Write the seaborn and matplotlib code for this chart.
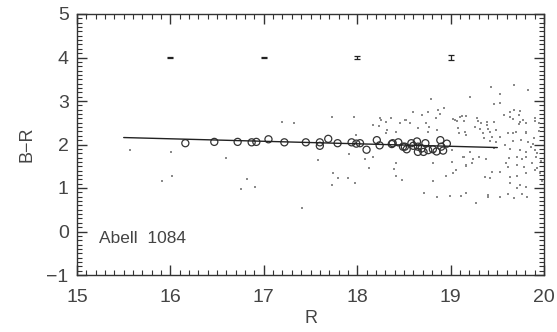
import numpy as np
import pandas as pd
import matplotlib
matplotlib.use("Agg")
import matplotlib.pyplot as plt
import seaborn as sns
from matplotlib.ticker import MultipleLocator

# ---- data ----
circ_r = [16.16, 16.47, 16.72, 16.87, 16.92, 17.05, 17.22, 17.45, 17.60, 17.60,
          17.69, 17.79, 17.94, 17.99, 18.03, 18.10, 18.21, 18.24, 18.38, 18.44,
          18.51, 18.37, 18.49, 18.53, 18.58, 18.64, 18.65, 18.69, 18.73, 18.76,
          18.81, 18.89, 18.90, 18.92, 18.65, 18.71, 18.85, 18.96, 18.60]
circ_br = [2.03, 2.06, 2.06, 2.05, 2.06, 2.12, 2.05, 2.05, 2.05, 1.97,
           2.13, 2.03, 2.05, 2.02, 2.03, 1.88, 2.10, 1.98, 2.03, 2.05,
           1.95, 2.01, 1.95, 1.89, 2.03, 2.07, 1.95, 1.91, 2.03, 1.87,
           1.89, 2.10, 1.95, 1.86, 1.83, 1.83, 1.84, 2.02, 1.97]

dot_r = [15.57, 16.01, 16.59, 15.91, 16.02, 16.82, 16.76, 16.91, 17.41,
         17.20, 17.32, 17.73, 17.97, 18.26, 18.31, 18.36, 18.46, 18.51, 18.17,
         18.32, 18.31, 17.99, 17.91, 17.58, 18.08, 18.13, 18.17, 18.42, 18.39,
         18.42, 17.74, 17.79, 17.90, 17.98, 17.73, 18.48,
         18.60, 18.69, 18.74, 18.42, 18.24, 18.52, 18.23, 18.57, 18.65, 18.76,
         18.85, 18.79, 18.93, 18.87, 18.76, 18.89, 18.84, 18.77, 18.81, 18.89,
         18.82, 18.81, 18.95, 18.81, 18.72, 18.85, 18.99,
         19.43, 19.68, 19.83, 19.21, 19.53, 19.46, 19.53, 19.64, 19.68, 19.74,
         19.12, 19.17, 19.03, 19.07, 19.14, 19.29, 19.39, 19.46, 19.33, 19.67,
         19.74, 19.81, 19.73, 19.90, 19.95, 19.26, 19.31, 19.40, 19.49, 19.61,
         19.70, 19.81, 19.09, 19.15, 19.36, 19.42, 19.49, 19.44, 19.67, 19.75,
         19.83, 19.89, 19.64, 19.74, 19.81, 19.90, 19.14, 19.24, 19.30, 19.38,
         19.63, 19.71, 19.76, 19.81, 19.91, 19.01, 19.17, 19.23, 19.59, 19.61,
         19.71, 19.79, 19.87, 19.06, 19.03, 19.44, 19.53, 19.37, 19.42, 19.64,
         19.71, 19.81, 19.90, 19.96, 19.64, 19.74, 19.71, 19.81, 19.11, 19.16,
         19.40, 19.40, 19.53, 19.61, 19.68, 19.76, 19.82, 19.27, 19.05, 19.10,
         19.28, 19.39, 19.57, 19.64, 19.73, 19.78, 19.90, 19.08, 19.17, 19.35,
         19.42, 19.53, 19.67, 19.81, 19.89, 19.01, 19.13, 19.17, 19.21,
         19.86, 19.93, 19.97, 19.88, 19.95, 19.92, 19.98, 19.58, 19.47]
dot_br = [1.87, 1.83, 1.68, 1.17, 1.28, 1.20, 0.98, 1.02, 0.53,
          2.52, 2.49, 2.64, 2.64, 2.56, 2.52, 2.60, 2.49, 2.56, 2.45,
          2.33, 2.26, 2.22, 1.78, 1.64, 1.66, 1.45, 1.72, 1.58, 1.43,
          1.28, 1.34, 1.22, 1.22, 1.12, 1.07, 1.18,
          2.75, 2.68, 2.49, 2.29, 2.60, 2.56, 2.43, 2.49, 2.37, 2.29,
          2.33, 3.04, 2.84, 2.79, 2.74, 2.69, 2.60, 2.40, 1.83, 1.80,
          1.83, 1.57, 1.28, 1.15, 0.89, 0.79, 0.82,
          3.32, 3.37, 3.25, 3.10, 3.16, 2.93, 2.96, 2.74, 2.79, 2.78,
          2.66, 2.66, 2.58, 2.55, 2.54, 2.55, 2.52, 2.51, 2.49, 2.58,
          2.52, 2.49, 2.46, 2.55, 2.49, 2.40, 2.35, 2.36, 2.33, 2.27,
          2.28, 2.29, 2.26, 2.29, 2.16, 2.09, 2.05, 2.18, 2.09, 2.10,
          2.06, 2.14, 1.90, 1.87, 1.83, 1.87, 1.72, 1.66, 1.71, 1.67,
          1.68, 1.71, 1.66, 1.71, 1.71, 1.60, 1.51, 1.58, 1.57, 1.49,
          1.53, 1.49, 1.57, 1.41, 1.35, 1.36, 1.36, 1.26, 1.22, 1.25,
          1.28, 1.35, 1.41, 1.35, 1.11, 1.07, 0.99, 1.03, 0.82, 0.89,
          0.84, 0.79, 0.80, 0.86, 0.76, 0.86, 0.79, 0.66, 2.56, 2.63,
          2.60, 2.45, 2.68, 2.64, 2.68, 2.56, 2.60, 2.37, 2.22, 2.26,
          2.29, 2.18, 2.26, 2.26, 2.14, 1.87, 1.72, 1.53, 1.83,
          1.95, 1.80, 1.62, 2.02, 2.30, 1.45, 1.15, 1.98, 1.92]

fit_r = [15.5, 19.5]
fit_br = [2.16, 1.93]

err_r = [16, 17, 18, 19]
err_br = [4, 4, 4, 4]
err_size = [0.005, 0.02, 0.04, 0.065]

label_text = "Abell  1084"

# ---- drawing ----
sns.set_style("ticks")
plt.rcParams['font.family'] = ['Liberation Sans', 'DejaVu Sans']

fig = plt.figure(figsize=(5.57, 3.32), dpi=100)
ax = fig.add_axes([77/557, 1 - 275/332, (544 - 77)/557, (275 - 14)/332])

dots = pd.DataFrame({"R": dot_r, "BR": dot_br})
circs = pd.DataFrame({"R": circ_r, "BR": circ_br})
fit = pd.DataFrame({"R": fit_r, "BR": fit_br})

sns.scatterplot(data=dots, x="R", y="BR", ax=ax, s=1.8, color="#8a8a8a",
                marker="s", linewidth=0, legend=False)
sns.lineplot(data=fit, x="R", y="BR", ax=ax, color="#222222", lw=1.0)
sns.scatterplot(data=circs, x="R", y="BR", ax=ax, s=26, marker="o",
                facecolor="none", edgecolor="#333333", linewidth=0.9,
                legend=False)
ax.errorbar(err_r, err_br, yerr=err_size, fmt="none", ecolor="#222222",
            elinewidth=0.9, capsize=2.0, capthick=0.9)

ax.text(15.24, -0.15, label_text, fontsize=12.5, color="#444444",
        va="center", ha="left")

ax.set_xlim(15, 20)
ax.set_ylim(-1, 5)
ax.xaxis.set_major_locator(MultipleLocator(1))
ax.xaxis.set_minor_locator(MultipleLocator(0.1))
ax.yaxis.set_major_locator(MultipleLocator(1))
ax.yaxis.set_minor_locator(MultipleLocator(0.1))
ax.tick_params(which="both", direction="in", top=True, right=True,
               bottom=True, left=True, color="#333333")
ax.tick_params(which="major", length=7, width=1.0, labelsize=14,
               labelcolor="#444444")
ax.tick_params(axis="x", which="major", pad=10)
ax.tick_params(axis="y", which="major", pad=6)
ax.tick_params(which="minor", length=3.5, width=0.8)
ax.set_yticks([-1, 0, 1, 2, 3, 4, 5])
ax.set_yticklabels(["\u22121", "0", "1", "2", "3", "4", "5"])
ax.set_xlabel("R", fontsize=13, color="#444444", labelpad=3)
ax.set_ylabel("B\u2212R", fontsize=13, color="#444444", labelpad=8)
for sp in ax.spines.values():
    sp.set_visible(True)
    sp.set_color("#333333")
    sp.set_linewidth(1.0)

fig.savefig("out.png", dpi=100)
